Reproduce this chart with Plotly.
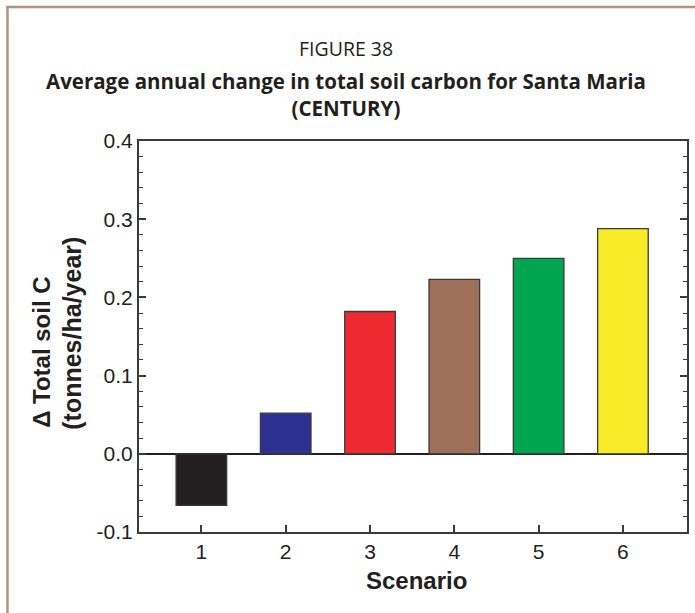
import plotly.graph_objects as go

scenarios = [1, 2, 3, 4, 5, 6]
delta_soil_c = [-0.066, 0.052, 0.182, 0.223, 0.250, 0.288]
bar_colors = ["#231f20", "#2e3192", "#ed2a2f", "#9e7058", "#00a550", "#f7ea26"]
y_ticks = [-0.1, 0.0, 0.1, 0.2, 0.3, 0.4]
y_tick_labels = ["-0.1", "0.0", "0.1", "0.2", "0.3", "0.4"]

W, H = 695, 613
L, R, T, B = 139, 6, 141, 81
pw = W - L - R
ph = H - T - B

def px(x):
    return (x - L) / pw

def py(y):
    return (H - B - y) / ph

fig = go.Figure()
fig.add_trace(go.Bar(
    x=scenarios, y=delta_soil_c, width=0.6,
    marker=dict(color=bar_colors, line=dict(color="#3a3a3a", width=1.3)),
    showlegend=False, hoverinfo="skip",
))

axis_font = dict(family="Arial, Liberation Sans, sans-serif", size=21, color="#231f20")

fig.update_layout(
    width=W, height=H,
    margin=dict(l=L, r=R, t=T, b=B),
    paper_bgcolor="white", plot_bgcolor="white",
    bargap=0.4,
    xaxis=dict(
        range=[0.26, 6.76], tickvals=scenarios, ticktext=[str(s) for s in scenarios],
        ticks="inside", ticklen=7, tickwidth=2, tickcolor="#3a3a3a",
        showline=True, linecolor="#3a3a3a", linewidth=2, mirror=True,
        showgrid=False, zeroline=False, tickfont=axis_font,
    ),
    yaxis=dict(
        range=[-0.1, 0.4], tickvals=y_ticks, ticktext=y_tick_labels,
        ticks="inside", ticklen=7, tickwidth=1.5, tickcolor="#3a3a3a",
        minor=dict(dtick=0.02, ticks="inside", ticklen=4, tickwidth=1.2, tickcolor="#3a3a3a", showgrid=False),
        showline=True, linecolor="#3a3a3a", linewidth=2, mirror="allticks",
        showgrid=False, zeroline=True, zerolinecolor="#231f20", zerolinewidth=2.2,
        tickfont=axis_font,
    ),
    font=dict(family="Arial, Liberation Sans, sans-serif", color="#231f20"),
)

# outer border
fig.add_shape(type="rect", xref="paper", yref="paper",
              x0=px(7), x1=px(720), y0=py(640), y1=py(7),
              line=dict(color="#b4947a", width=2.5), fillcolor="rgba(0,0,0,0)", layer="below")

title_font = "Open Sans, Noto Sans, sans-serif"
ann_common = dict(xref="paper", yref="paper", showarrow=False, xanchor="center", yanchor="middle")
fig.add_annotation(x=px(347), y=py(48), text="FIGURE 38",
                   font=dict(family=title_font, size=19.5, color="#231f20"), **ann_common)
fig.add_annotation(x=px(347), y=py(94.5),
                   text="<b>Average annual change in total soil carbon for Santa Maria</b><br><b>(CENTURY)</b>",
                   font=dict(family=title_font, size=20.5, color="#231f20"), **ann_common)

label_font = dict(family="Arial, Liberation Sans, sans-serif", size=25, color="#231f20")
fig.add_annotation(xref="paper", yref="paper", showarrow=False, xanchor="center",
                   x=px(41), y=py(430), yanchor="bottom",
                   text="<b>\u0394 Total soil C</b>", textangle=-90, font=dict(label_font, size=24))
fig.add_annotation(xref="paper", yref="paper", showarrow=False, xanchor="center",
                   x=px(71), y=py(432), yanchor="bottom",
                   text="<b>(tonnes/ha/year)</b>", textangle=-90, font=label_font)
fig.add_annotation(x=px(418), y=py(580), text="<b>Scenario</b>",
                   font=dict(label_font, size=24), **ann_common)

fig.write_html("out.html", config={"displayModeBar": False},
               post_script="document.body.style.margin='0';document.body.style.overflow='hidden';")
